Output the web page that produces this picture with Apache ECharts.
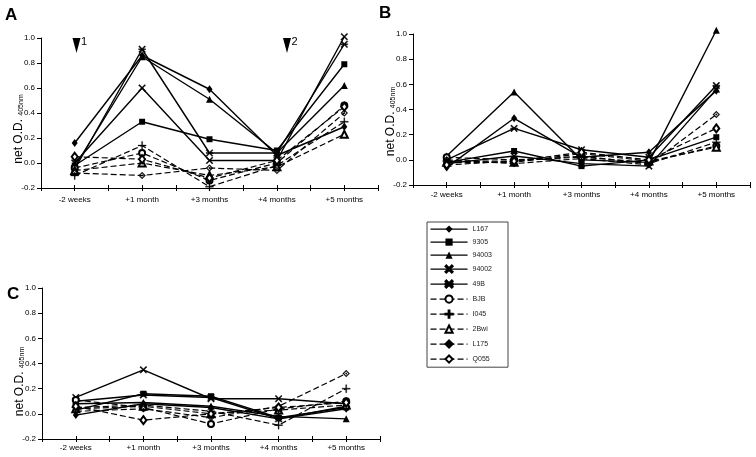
<!DOCTYPE html>
<html>
<head>
<meta charset="utf-8">
<script src="https://cdn.jsdelivr.net/npm/echarts@6/dist/echarts.min.js"></script>
<style>html,body{margin:0;padding:0;background:#fff;}#c{width:756px;height:457px;}</style>
</head>
<body>
<div id="c"></div>
<script>
// ---- data ----
const categories = ['-2 weeks', '+1 month', '+3 months', '+4 months', '+5 months'];
const seriesNames = ['L167', '9305', '94003', '94002', '49B', 'BJB', 'I045', '2Bwi', 'L175', 'Q055'];
const yTicks = [-0.2, 0.0, 0.2, 0.4, 0.6, 0.8, 1.0];

// Panel A
const a_L167  = [0.16, 0.86, 0.59, 0.06, 0.29];
const a_9305  = [-0.02, 0.33, 0.19, 0.10, 0.79];
const a_94003 = [-0.03, 0.85, 0.51, 0.08, 0.62];
const a_94002 = [0.00, 0.60, 0.02, 0.02, 1.01];
const a_49B   = [-0.05, 0.91, 0.08, 0.08, 0.95];
const a_BJB   = [-0.04, 0.08, -0.14, 0.00, 0.46];
const a_I045  = [-0.10, 0.14, -0.19, -0.02, 0.33];
const a_2Bwi  = [-0.06, 0.00, -0.10, -0.03, 0.23];
const a_L175  = [-0.08, -0.10, -0.04, -0.06, 0.40];
const a_Q055  = [0.05, 0.03, -0.12, 0.02, 0.45];

// Panel B
const b_L167  = [-0.06, 0.33, 0.02, 0.06, 0.55];
const b_9305  = [-0.02, 0.07, -0.05, 0.00, 0.18];
const b_94003 = [0.03, 0.54, 0.00, -0.02, 1.03];
const b_94002 = [-0.03, 0.03, -0.03, -0.05, 0.56];
const b_49B   = [0.00, 0.25, 0.08, 0.02, 0.59];
const b_BJB   = [0.02, 0.00, 0.02, -0.02, 0.11];
const b_I045  = [-0.01, -0.01, 0.03, -0.03, 0.14];
const b_2Bwi  = [-0.02, -0.02, 0.05, -0.01, 0.10];
const b_L175  = [0.00, -0.03, 0.01, -0.04, 0.36];
const b_Q055  = [-0.04, -0.01, 0.06, 0.00, 0.25];

// Panel C
const c_L167  = [-0.01, 0.08, 0.05, -0.04, 0.04];
const c_9305  = [0.03, 0.16, 0.14, -0.03, 0.05];
const c_94003 = [0.08, 0.09, 0.06, -0.02, -0.04];
const c_94002 = [0.13, 0.35, 0.12, 0.12, 0.08];
const c_49B   = [0.10, 0.15, 0.13, -0.04, 0.06];
const c_BJB   = [0.11, 0.05, -0.08, 0.04, 0.10];
const c_I045  = [0.05, 0.07, 0.02, -0.09, 0.20];
const c_2Bwi  = [0.04, 0.06, 0.00, 0.03, 0.07];
const c_L175  = [0.02, 0.04, -0.03, 0.06, 0.32];
const c_Q055  = [0.06, -0.05, 0.00, 0.05, 0.09];

const panelA = [a_L167, a_9305, a_94003, a_94002, a_49B, a_BJB, a_I045, a_2Bwi, a_L175, a_Q055];
const panelB = [b_L167, b_9305, b_94003, b_94002, b_49B, b_BJB, b_I045, b_2Bwi, b_L175, b_Q055];
const panelC = [c_L167, c_9305, c_94003, c_94002, c_49B, c_BJB, c_I045, c_2Bwi, c_L175, c_Q055];
const panels = [panelA, panelB, panelC];
const panelLetters = ['A', 'B', 'C'];

// ---- styles ----
const FONT = '"Liberation Sans", Arial, sans-serif';
const X_PATH = 'path://M0,1.2L1.2,0L5,3.8L8.8,0L10,1.2L6.2,5L10,8.8L8.8,10L5,6.2L1.2,10L0,8.8L3.8,5Z';
const AST_PATH = 'path://M0,1.2L1.2,0L5,3.8L8.8,0L10,1.2L6.2,5L10,8.8L8.8,10L5,6.2L1.2,10L0,8.8L3.8,5Z M0,4.4L10,4.4L10,5.6L0,5.6Z';
const PLUS_PATH = 'path://M4.4,0L5.6,0L5.6,4.4L10,4.4L10,5.6L5.6,5.6L5.6,10L4.4,10L4.4,5.6L0,5.6L0,4.4L4.4,4.4Z';
const DOTDIA_PATH = 'path://M5,0L10,5L5,10L0,5Z M5,1.8L1.8,5L5,8.2L8.2,5Z M5,3.7L6.3,5L5,6.3L3.7,5Z';
const styles = [
  {symbol: 'diamond', size: [6, 8], dash: false, bw: 0},
  {symbol: 'rect', size: 6, dash: false, bw: 0},
  {symbol: 'triangle', size: 7, dash: false, bw: 0},
  {symbol: X_PATH, size: 7, dash: false, bw: 0.4},
  {symbol: AST_PATH, size: 7, dash: false, bw: 0.4},
  {symbol: 'emptyCircle', size: 6, dash: true, bw: 1},
  {symbol: PLUS_PATH, size: 8, dash: true, bw: 0.3},
  {symbol: 'emptyTriangle', size: 7, dash: true, bw: 1},
  {symbol: DOTDIA_PATH, size: 7, dash: true, bw: 0.3},
  {symbol: 'emptyDiamond', size: [6, 8], dash: true, bw: 1}
];

// ---- layout ----
const grids = [
  {left: 41, top: 38, width: 337, height: 150},
  {left: 413, top: 34, width: 337, height: 151},
  {left: 42, top: 288, width: 338, height: 151}
];
const labelMargins = [8, 6, 5];
const namePads = [32, 24, 36];

const xAxes = [], yAxes = [], series = [];
grids.forEach((g, p) => {
  const base = {type: 'category', data: categories, gridIndex: p, position: 'bottom', boundaryGap: true,
    axisLine: {show: false, onZero: false, lineStyle: {color: '#000', width: 1}},
    axisLabel: {show: false}, splitLine: {show: false}};
  const tick = (inside, align) => ({show: true, inside: inside, alignWithLabel: align, length: 3, interval: 0,
    lineStyle: {color: '#000', width: 1}});
  xAxes.push(Object.assign({}, base, {
    axisLine: {show: true, onZero: false, lineStyle: {color: '#000', width: 1}},
    axisTick: tick(false, false),
    axisLabel: {show: true, interval: 0, fontSize: 8, color: '#000', fontFamily: FONT, margin: labelMargins[p]}
  }));
  xAxes.push(Object.assign({}, base, {axisTick: tick(true, false)}));
  xAxes.push(Object.assign({}, base, {axisTick: tick(false, true)}));
  xAxes.push(Object.assign({}, base, {axisTick: tick(true, true)}));
  yAxes.push({
    type: 'value', gridIndex: p, min: yTicks[0], max: yTicks[yTicks.length - 1], interval: 0.2,
    axisLine: {show: true, onZero: false, lineStyle: {color: '#000', width: 1}},
    axisTick: {show: true, length: 4, lineStyle: {color: '#000'}},
    axisLabel: {fontSize: 8, color: '#000', fontFamily: FONT, margin: 6, formatter: v => v.toFixed(1)},
    splitLine: {show: false},
    name: '{a|net O.D.} {b|405nm}', nameLocation: 'middle', nameRotate: 90, nameGap: 16,
    nameMoveOverlap: false,
    nameTextStyle: {fontFamily: FONT, color: '#000', padding: [0, namePads[p], 0, 0],
      rich: {a: {fontSize: 12, fontFamily: FONT, color: '#000', verticalAlign: 'bottom'},
             b: {fontSize: 7, fontFamily: FONT, color: '#000', verticalAlign: 'bottom'}}}
  });
  panels[p].forEach((vals, i) => {
    const st = styles[i];
    series.push({
      type: 'line', name: seriesNames[i], xAxisIndex: p * 4, yAxisIndex: p,
      data: vals, symbol: st.symbol, symbolSize: st.size, showAllSymbol: true, clip: false,
      lineStyle: {color: '#000', width: st.dash ? 1.2 : 1.4, type: st.dash ? [6, 3] : 'solid'},
      itemStyle: {color: '#000', borderColor: '#000', borderWidth: st.bw},
      emphasis: {disabled: true}, animation: false
    });
  });
});

const graphics = [
  {type: 'text', left: 5, top: 7, style: {text: panelLetters[0], font: 'bold 17px ' + FONT, fill: '#000'}},
  {type: 'text', left: 379, top: 5, style: {text: panelLetters[1], font: 'bold 17px ' + FONT, fill: '#000'}},
  {type: 'text', left: 7, top: 286, style: {text: panelLetters[2], font: 'bold 17px ' + FONT, fill: '#000'}},
  {type: 'polygon', shape: {points: [[72.5, 38], [80.5, 38], [76.5, 53]]}, style: {fill: '#000'}},
  {type: 'text', left: 81, top: 36, style: {text: '1', font: '11px ' + FONT, fill: '#000'}},
  {type: 'polygon', shape: {points: [[283, 38], [291, 38], [287, 53]]}, style: {fill: '#000'}},
  {type: 'text', left: 291.5, top: 36, style: {text: '2', font: '11px ' + FONT, fill: '#000'}}
];

const chart = echarts.init(document.getElementById('c'), null, {renderer: 'canvas'});
chart.setOption({
  backgroundColor: '#fff',
  animation: false,
  grid: grids,
  xAxis: xAxes,
  yAxis: yAxes,
  series: series,
  legend: {
    show: true, orient: 'vertical', left: 427, top: 222, data: seriesNames,
    itemWidth: 37, itemHeight: 9, itemGap: 5.8, padding: [3.5, 16, 3.5, 3],
    borderColor: '#444', borderWidth: 1, selectedMode: false,
    lineStyle: {width: 1.1},
    textStyle: {fontSize: 7, color: '#222', fontFamily: FONT}
  },
  graphic: graphics
});
</script>
</body>
</html>
